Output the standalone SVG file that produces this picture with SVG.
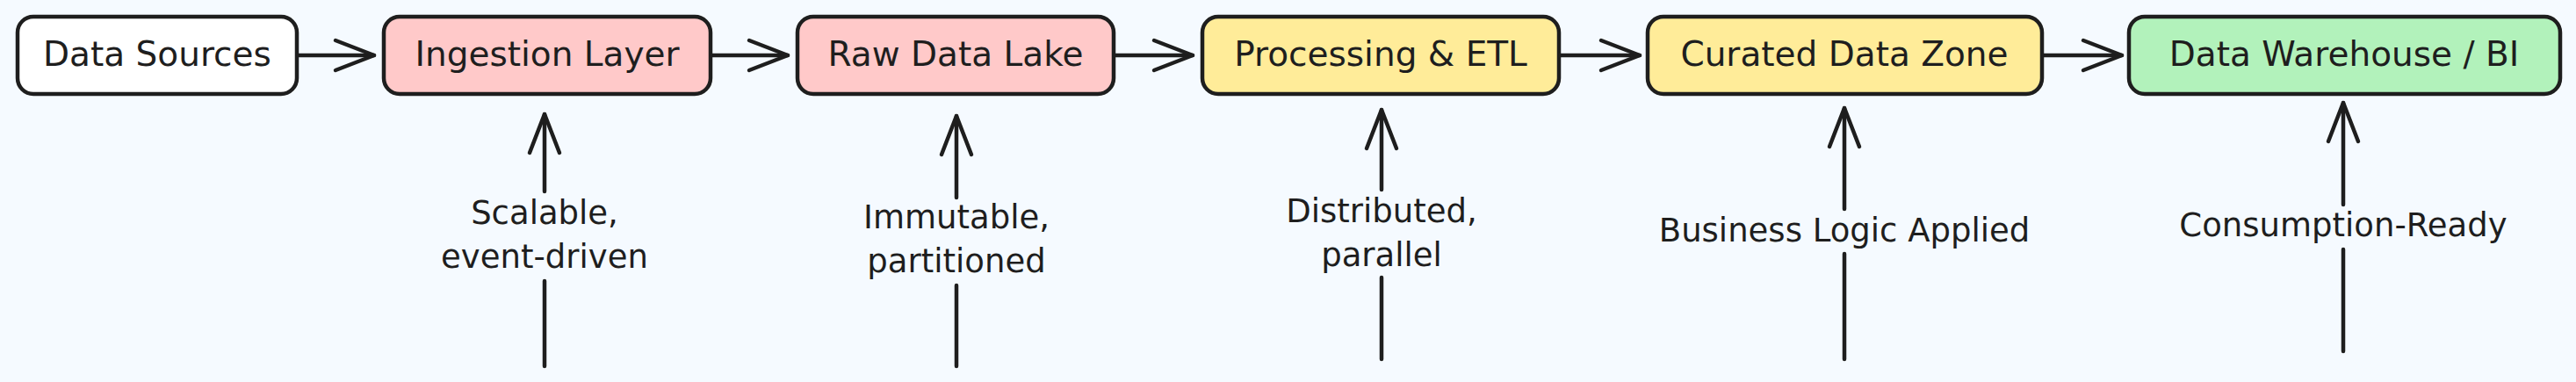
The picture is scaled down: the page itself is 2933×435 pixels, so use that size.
<svg xmlns="http://www.w3.org/2000/svg" width="2933" height="435" viewBox="0 0 2933 435">
  <style>
    .box { stroke: #1e1e1e; stroke-width: 4.5; stroke-linejoin: round; }
    .t { font-family: "DejaVu Sans", "Liberation Sans", sans-serif; font-size: 39px; fill: #1e1e1e; text-anchor: middle; }
    .lbl { font-family: "DejaVu Sans", "Liberation Sans", sans-serif; font-size: 37px; fill: #1e1e1e; text-anchor: middle; }
    .edge { fill: none; stroke: #1e1e1e; stroke-width: 4.5; stroke-linecap: round; }
  </style>
  <defs>
    <marker id="ah" viewBox="0 0 60 40" markerWidth="60" markerHeight="40" refX="50" refY="20" orient="auto" markerUnits="userSpaceOnUse">
      <path d="M6,3 L50,20 L6,37" fill="none" stroke="#1e1e1e" stroke-width="4.5" stroke-linecap="round" stroke-linejoin="round"/>
    </marker>
  </defs>
  <rect x="0" y="0" width="2933" height="435" fill="#f5faff"/>

  <g id="connectors">
    <line class="edge" x1="338" y1="63" x2="426" y2="63" marker-end="url(#ah)"/>
    <line class="edge" x1="809" y1="63" x2="897" y2="63" marker-end="url(#ah)"/>
    <line class="edge" x1="1268" y1="63" x2="1358" y2="63" marker-end="url(#ah)"/>
    <line class="edge" x1="1775" y1="63" x2="1867" y2="63" marker-end="url(#ah)"/>
    <line class="edge" x1="2325" y1="63" x2="2416" y2="63" marker-end="url(#ah)"/>

    <g id="edge-ingestion">
      <line class="edge" x1="620" y1="417" x2="620" y2="320"/>
      <line class="edge" x1="620" y1="218" x2="620" y2="130" marker-end="url(#ah)"/>
      <text class="lbl" x="620" y="255">Scalable,</text>
      <text class="lbl" x="620" y="305">event-driven</text>
    </g>
    <g id="edge-raw">
      <line class="edge" x1="1089" y1="417" x2="1089" y2="325"/>
      <line class="edge" x1="1089" y1="225" x2="1089" y2="132" marker-end="url(#ah)"/>
      <text class="lbl" x="1089" y="260">Immutable,</text>
      <text class="lbl" x="1089" y="310">partitioned</text>
    </g>
    <g id="edge-processing">
      <line class="edge" x1="1573" y1="409" x2="1573" y2="316"/>
      <line class="edge" x1="1573" y1="216" x2="1573" y2="125" marker-end="url(#ah)"/>
      <text class="lbl" x="1573" y="253">Distributed,</text>
      <text class="lbl" x="1573" y="303">parallel</text>
    </g>
    <g id="edge-curated">
      <line class="edge" x1="2100" y1="409" x2="2100" y2="289"/>
      <line class="edge" x1="2100" y1="238" x2="2100" y2="123" marker-end="url(#ah)"/>
      <text class="lbl" x="2100" y="275">Business Logic Applied</text>
    </g>
    <g id="edge-warehouse">
      <line class="edge" x1="2668" y1="400" x2="2668" y2="284"/>
      <line class="edge" x1="2668" y1="233" x2="2668" y2="117" marker-end="url(#ah)"/>
      <text class="lbl" x="2668" y="269">Consumption-Ready</text>
    </g>
  </g>

  <g id="node-data-sources">
    <rect class="box" x="20" y="19" width="318" height="88" rx="18" fill="#ffffff"/>
    <text class="t" x="179" y="75">Data Sources</text>
  </g>
  <g id="node-ingestion">
    <rect class="box" x="437" y="19" width="372" height="88" rx="18" fill="#ffc9c9"/>
    <text class="t" x="623" y="75">Ingestion Layer</text>
  </g>
  <g id="node-raw-lake">
    <rect class="box" x="908" y="19" width="360" height="88" rx="18" fill="#ffc9c9"/>
    <text class="t" x="1088" y="75">Raw Data Lake</text>
  </g>
  <g id="node-processing">
    <rect class="box" x="1369" y="19" width="406" height="88" rx="18" fill="#ffec99"/>
    <text class="t" x="1572" y="75">Processing &amp; ETL</text>
  </g>
  <g id="node-curated">
    <rect class="box" x="1876" y="19" width="449" height="88" rx="18" fill="#ffec99"/>
    <text class="t" x="2100" y="75">Curated Data Zone</text>
  </g>
  <g id="node-warehouse">
    <rect class="box" x="2424" y="19" width="491" height="88" rx="18" fill="#b2f2bb"/>
    <text class="t" x="2669" y="75">Data Warehouse / BI</text>
  </g>
</svg>
